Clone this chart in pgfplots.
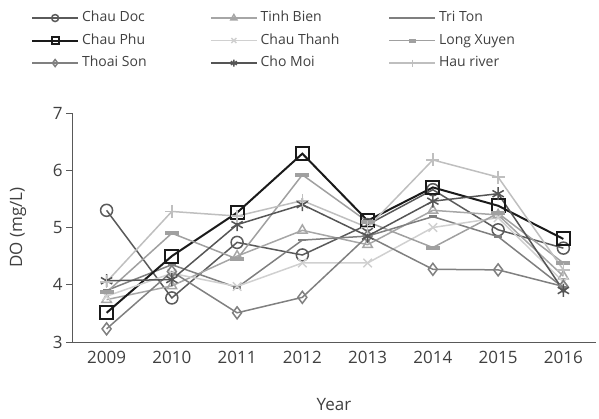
\documentclass[border=0pt]{standalone}
\usepackage{pgfplots}
\pgfplotsset{compat=1.18}
\usepackage{fontspec}
\setmainfont{Open Sans}
\definecolor{txt}{HTML}{404040}
\definecolor{axc}{HTML}{595959}
\definecolor{cDoc}{HTML}{5A5A5A}
\definecolor{cTB}{HTML}{A6A6A6}
\definecolor{cTT}{HTML}{7F7F7F}
\definecolor{cPhu}{HTML}{1A1A1A}
\definecolor{cCT}{HTML}{D0D0D0}
\definecolor{cLX}{HTML}{A0A0A0}
\definecolor{cTS}{HTML}{808080}
\definecolor{cCM}{HTML}{555555}
\definecolor{cHR}{HTML}{BFBFBF}
\newcommand{\lt}[1]{\makebox[128pt][l]{#1}}
\begin{document}
\begin{tikzpicture}[x=1pt,y=1pt]
\useasboundingbox (0,0) rectangle (599,418);
\begin{axis}[
  at={(72pt,76pt)}, anchor=south west,
  scale only axis, width=524pt, height=229pt,
  xmin=2008.47, xmax=2016.5, ymin=3, ymax=7,
  xtick={2009,...,2016}, ytick={3,4,5,6,7},
  xticklabel style={/pgf/number format/.cd,1000 sep={}},
  /pgf/number format/assume math mode=true,
  axis x line*=bottom, axis y line*=left,
  axis line style={axc, line width=1pt},
  x axis line style={-}, y axis line style={-},
  xtick style={draw=none},
  ytick style={axc, line width=1pt},
  tick align=outside, major tick length=6pt,
  ticklabel style={font=\fontsize{17}{19}\selectfont, text=txt},
  xlabel={Year}, ylabel={DO (mg/L)},
  label style={font=\fontsize{17}{19}\selectfont, text=txt},
  xlabel style={at={(axis description cs:0.5,-0.275)}, anchor=center},
  ylabel style={at={(axis description cs:-0.103,0.5)}, anchor=center},
  every axis plot/.append style={line width=1.5pt, mark options={solid}},
  legend columns=3,
  legend style={draw=none, fill=none, inner sep=0pt, outer sep=0pt,
    at={(axis description cs:-0.078,1.443)}, anchor=north west,
    font=\fontsize{14}{16}\selectfont, text=txt,
    nodes={inner sep=0pt, text height=10pt, text depth=3pt},
    row sep=9.5pt,
    /tikz/every odd column/.append style={column sep=3pt},
    /tikz/every even column/.append style={column sep=0pt}},
  legend image code/.code={\draw[#1, mark size=3.5pt] plot coordinates {(0pt,0pt) (23pt,0pt) (46pt,0pt)};},
  legend image post style={mark repeat=2, mark phase=2},
]
\addplot[cDoc, mark=o, mark size=6pt] coordinates {(2009,5.30) (2010,3.77) (2011,4.74) (2012,4.52) (2013,5.05) (2014,5.66) (2015,4.96) (2016,4.64)};
\addlegendentry{\lt{Chau Doc}}
\addplot[cTB, mark=triangle, mark size=5.5pt] coordinates {(2009,3.74) (2010,3.98) (2011,4.50) (2012,4.95) (2013,4.70) (2014,5.30) (2015,5.22) (2016,4.15)};
\addlegendentry{\lt{Tinh Bien}}
\addplot[cTT, mark=-, mark size=4pt, mark options={line width=2.5pt}] coordinates {(2009,3.90) (2010,4.35) (2011,3.95) (2012,4.78) (2013,4.85) (2014,5.19) (2015,4.84) (2016,3.95)};
\addlegendentry{\lt{Tri Ton}}
\addplot[cPhu, line width=2pt, mark=square, mark size=6.5pt] coordinates {(2009,3.51) (2010,4.50) (2011,5.26) (2012,6.29) (2013,5.12) (2014,5.70) (2015,5.38) (2016,4.80)};
\addlegendentry{\lt{Chau Phu}}
\addplot[cCT, mark=x, mark size=6pt] coordinates {(2009,3.80) (2010,4.20) (2011,3.97) (2012,4.38) (2013,4.38) (2014,5.00) (2015,5.17) (2016,4.05)};
\addlegendentry{\lt{Chau Thanh}}
\addplot[cLX, mark=-, mark size=7pt, mark options={line width=4pt}] coordinates {(2009,3.87) (2010,4.90) (2011,4.45) (2012,5.92) (2013,5.10) (2014,4.65) (2015,5.25) (2016,4.38)};
\addlegendentry{\lt{Long Xuyen}}
\addplot[cTS, mark=diamond, mark size=6pt] coordinates {(2009,3.23) (2010,4.23) (2011,3.51) (2012,3.78) (2013,4.85) (2014,4.27) (2015,4.26) (2016,3.97)};
\addlegendentry{\lt{Thoai Son}}
\addplot[cCM, mark=asterisk, mark size=6.5pt] coordinates {(2009,4.07) (2010,4.09) (2011,5.05) (2012,5.40) (2013,4.85) (2014,5.46) (2015,5.59) (2016,3.90)};
\addlegendentry{\lt{Cho Moi}}
\addplot[cHR, mark=+, mark size=6.5pt] coordinates {(2009,4.05) (2010,5.28) (2011,5.20) (2012,5.47) (2013,5.00) (2014,6.18) (2015,5.88) (2016,4.26)};
\addlegendentry{\lt{Hau river}}
\end{axis}
\end{tikzpicture}
\end{document}
